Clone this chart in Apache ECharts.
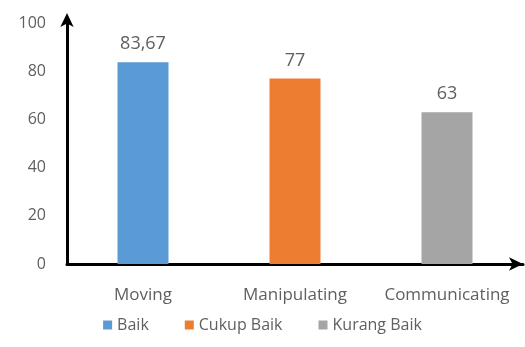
<!DOCTYPE html>
<html>
<head>
<meta charset="utf-8">
<script src="https://cdn.jsdelivr.net/npm/echarts@6/dist/echarts.min.js"></script>
<style>
  html, body { margin: 0; padding: 0; background: #fff; }
  #chart { width: 525px; height: 347px; }
</style>
</head>
<body>
<div id="chart"></div>
<script>
var categories = ['Moving', 'Manipulating', 'Communicating'];
var seriesNames = ['Baik', 'Cukup Baik', 'Kurang Baik'];
var values = [83.67, 77, 63];
var colors = ['#5B9BD5', '#ED7D31', '#A5A5A5'];
var yTicks = { min: 0, max: 100, interval: 20 };

var chart = echarts.init(document.getElementById('chart'));

var font = 'Open Sans';
var textColor = '#5f5f5f';

var series = [];
for (var i = 0; i < seriesNames.length; i++) {
    var data = [];
    for (var j = 0; j < categories.length; j++) {
        data.push(i === j ? values[j] : '-');
    }
    series.push({
        name: seriesNames[i],
        type: 'bar',
        stack: 'one',
        barWidth: 51,
        data: data,
        itemStyle: { color: colors[i] },
        label: {
            show: true,
            position: 'top',
            distance: 9,
            color: textColor,
            fontFamily: font,
            fontSize: 18,
            formatter: function (p) {
                return String(p.value).replace('.', ',');
            }
        }
    });
}

chart.setOption({
    animation: false,
    grid: { left: 67, top: 23, width: 456, bottom: 83 },
    legend: {
        bottom: 9,
        left: 'center',
        itemWidth: 9,
        itemHeight: 9,
        itemGap: 36,
        icon: 'rect',
        textStyle: { color: textColor, fontFamily: font, fontSize: 16 },
        data: seriesNames
    },
    xAxis: {
        type: 'category',
        data: categories,
        axisTick: { show: false },
        axisLine: {
            lineStyle: { color: '#000', width: 3 },
            symbol: ['none', 'arrow'],
            symbolSize: [10, 14]
        },
        axisLabel: {
            interval: 0,
            hideOverlap: false,
            color: textColor,
            fontFamily: font,
            fontSize: 17,
            margin: 23
        }
    },
    yAxis: {
        type: 'value',
        min: yTicks.min,
        max: yTicks.max,
        interval: yTicks.interval,
        splitLine: { show: false },
        axisTick: { show: false },
        axisLine: {
            show: true,
            lineStyle: { color: '#000', width: 3 },
            symbol: ['none', 'arrow'],
            symbolSize: [10, 14],
            symbolOffset: [0, 10]
        },
        axisLabel: { color: textColor, fontFamily: font, fontSize: 16, margin: 21 }
    },
    series: series
});
</script>
</body>
</html>
